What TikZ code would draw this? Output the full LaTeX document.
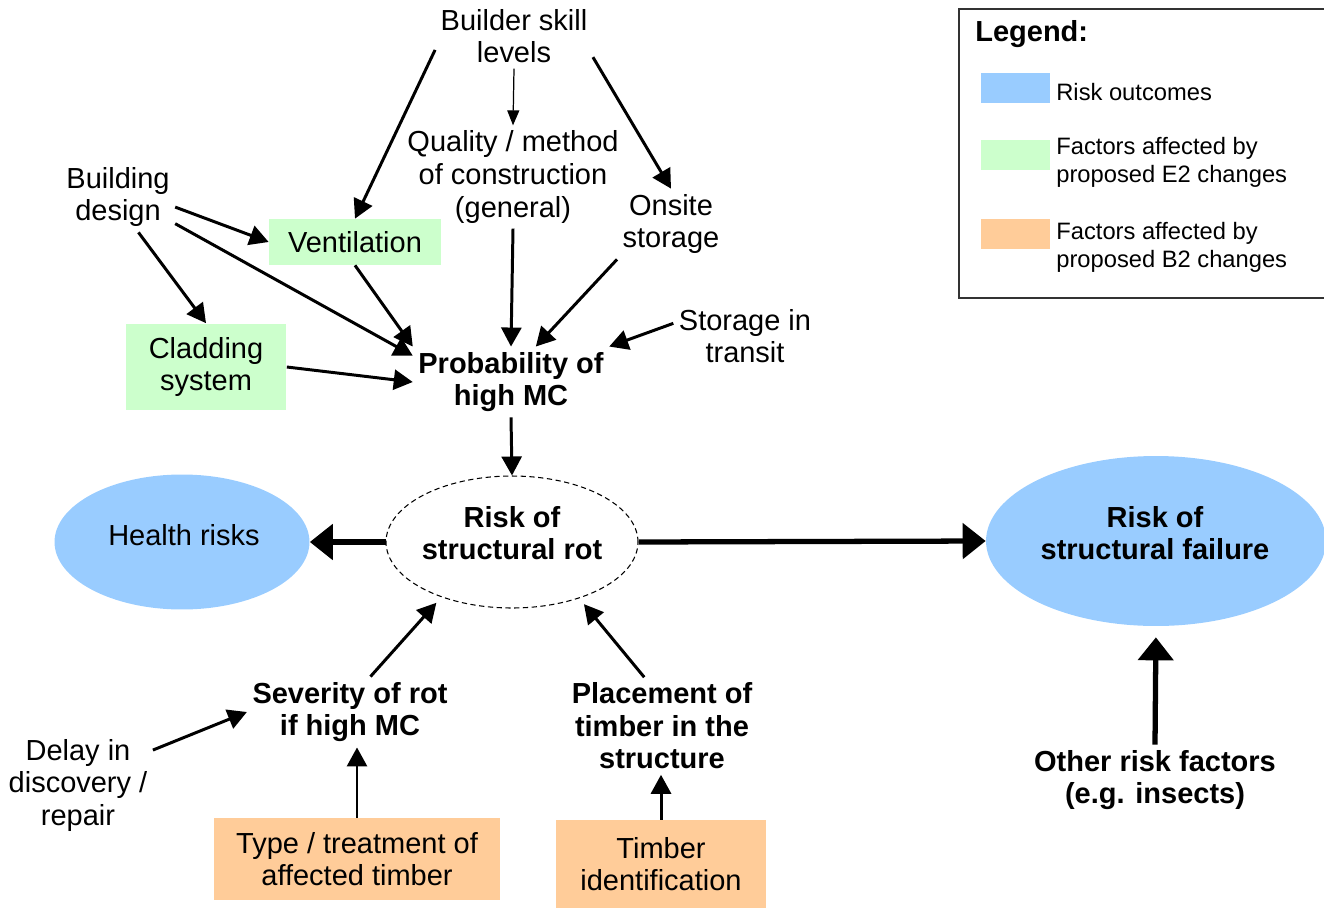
\documentclass[tikz,border=0pt]{standalone}
\usepackage{fontspec}
\setmainfont{Liberation Sans}
\usepackage{xcolor}
\usepackage{tikz}
\usetikzlibrary{shapes.geometric,arrows.meta,positioning}
\definecolor{outblue}{RGB}{153,204,255}
\definecolor{etwogreen}{RGB}{204,255,204}
\definecolor{btwoorange}{RGB}{255,204,153}

\begin{document}
\begin{tikzpicture}[x=0.02cm, y=-0.02cm,
  font=\fontsize{16.5}{18.5}\selectfont,
  txt/.style={align=center, inner sep=3pt},
  bold/.style={txt, font=\fontsize{16.5}{18.5}\selectfont\bfseries},
  box/.style={rectangle, fill=#1, align=center, inner sep=2pt},
  outcome/.style={ellipse, fill=outblue, inner sep=0pt},
  rotstyle/.style={ellipse, draw, dash pattern=on 3pt off 2pt, line width=0.6pt, inner sep=0pt},
  arr/.style={-{Triangle[length=3.8mm, width=4mm]}, line width=1.7pt},
  thinarr/.style={-{Triangle[length=3mm, width=2.4mm]}, line width=0.7pt},
  bigarr/.style={-{Triangle[length=4.6mm, width=7mm]}, line width=3pt},
  legtxt/.style={anchor=west, align=left, inner sep=0pt, font=\fontsize{13.5}{16}\selectfont}]
  \useasboundingbox (0,0) rectangle (1324,909);
  % Top factors
  \node[txt] (bsl)     at (514,36)  {Builder skill\\levels};
  \node[txt] (qual)    at (513,177) {Quality / method\\of construction\\(general)};
  \node[txt] (onsite)  at (671,224) {Onsite\\storage};
  \node[txt] (bdes)    at (118,197) {Building\\design};
  \node[txt] (transit) at (745,336) {Storage in\\transit};
  % E2 factors
  \node[box=etwogreen, minimum width=3.44cm, minimum height=0.92cm] (vent) at (355,242) {Ventilation};
  \node[box=etwogreen, minimum width=3.22cm, minimum height=1.74cm] (clad) at (206,367) {Cladding\\system};
  % Middle
  \node[bold] (prob) at (511,382) {Probability of\\high MC};
  \node[rotstyle, minimum width=5.04cm, minimum height=2.64cm] (rot) at (512,542) {};
  \node[bold] (rottxt) at (512,533) {Risk of\\structural rot};
  % Outcomes
  \node[outcome, minimum width=5.1cm, minimum height=2.7cm] (health) at (182,542) {};
  \node[txt] (healthtxt) at (184,535) {Health risks};
  \node[outcome, minimum width=6.8cm, minimum height=3.4cm] (fail) at (1156,541) {};
  \node[bold] (failtxt) at (1155,533) {Risk of\\structural failure};
  % Bottom factors
  \node[bold] (sev)   at (350,712) {Severity of rot\\if high MC};
  \node[bold] (place) at (662,726) {Placement of\\timber in the\\structure};
  \node[txt]  (delay) at (78,785)  {Delay in\\discovery /\\repair};
  \node[bold] (other) at (1155,780) {Other risk factors\\(e.g. insects)};
  % B2 factors
  \node[box=btwoorange, minimum width=5.74cm, minimum height=1.64cm] (type) at (357,859) {Type / treatment of\\affected timber};
  \node[box=btwoorange, minimum width=4.22cm, minimum height=1.76cm] (tid)  at (661,864) {Timber\\identification};
  % Arrows
  \draw[arr] (bsl.190) -- (vent.north);
  \draw[thinarr] (bsl.south) -- (qual.north);
  \draw[arr] (bsl.-15) -- (onsite.north);
  \draw[arr] (bdes.-10) -- (vent.west);
  \draw[arr] (bdes.-25) -- (prob.165);
  \draw[arr] (bdes.-60) -- (clad.north);
  \draw[arr] (vent.south) -- (prob.north west);
  \draw[arr] (qual.south) -- (prob.north);
  \draw[arr] (onsite.south west) -- (prob.55);
  \draw[arr] (transit.170) -- (prob.north east);
  \draw[arr] (clad.east) -- (prob.west);
  \draw[arr] (prob.south) -- (rot.north);
  \draw[bigarr] (rot.west) -- (health.east);
  \draw[bigarr] (rot.east) -- (fail.west);
  \draw[arr, shorten >=0.15cm] (sev.60) -- (rot.218);
  \draw[arr, shorten >=0.15cm] (place.110) -- (rot.-40);
  \draw[arr] (delay.25) -- (sev.west);
  \draw[arr] (type.north) -- (type.north |- sev.south);
  \draw[arr] (tid.north) -- (tid.north |- place.south);
  \draw[bigarr, shorten >=0.22cm] (other.north) -- (fail.south);
  % Legend
  \node[draw=black!80, line width=1pt, minimum width=7.4cm, minimum height=5.78cm,
        anchor=north west, inner sep=0pt] (legend) at (958,8) {};
  \node[anchor=west, inner sep=0pt, font=\fontsize{16.5}{18.5}\selectfont\bfseries] (legtitle) at (975,34) {Legend:};
  \node[fill=outblue, minimum width=1.38cm, minimum height=0.6cm, inner sep=0pt] (swblue) at (1015,88) {};
  \node[fill=etwogreen, minimum width=1.38cm, minimum height=0.6cm, inner sep=0pt] (swgreen) at (1015,155) {};
  \node[fill=btwoorange, minimum width=1.38cm, minimum height=0.6cm, inner sep=0pt] (sworange) at (1015,234) {};
  \node[legtxt] (legout) at (1056,92)  {Risk outcomes};
  \node[legtxt] (legetwo) at (1056,162) {Factors affected by\\proposed E2 changes};
  \node[legtxt] (legbtwo) at (1056,247) {Factors affected by\\proposed B2 changes};
\end{tikzpicture}
\end{document}
